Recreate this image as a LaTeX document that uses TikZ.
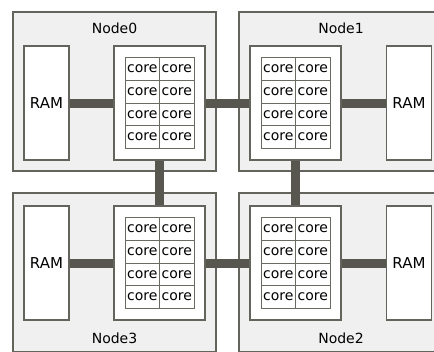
\documentclass[tikz,border=0pt]{standalone}
\usepackage{fontspec}
\setmainfont{DejaVu Sans}
\usetikzlibrary{positioning}
\definecolor{boxfill}{HTML}{F0F0F0}
\definecolor{boxline}{HTML}{64645C}
\definecolor{linkcol}{HTML}{57574F}
\definecolor{cellline}{HTML}{6A6A62}
\begin{document}
\begin{tikzpicture}[x=1pt,y=-1pt,
  nodebox/.style={draw=boxline,fill=boxfill,line width=1.4pt,minimum width=203pt,minimum height=159pt,inner sep=0pt},
  membox/.style={draw=boxline,fill=white,line width=1.2pt,minimum width=45pt,minimum height=114pt,inner sep=0pt,font=\fontsize{15}{16}\selectfont},
  cpubox/.style={draw=boxline,fill=white,line width=1.2pt,minimum width=91pt,minimum height=114pt,inner sep=0pt},
  corecell/.style={draw=cellline,line width=1pt,minimum width=34.5pt,minimum height=22.75pt,inner sep=0pt,font=\fontsize{14}{15}\selectfont},
  nodename/.style={inner sep=0pt,font=\fontsize{14}{15}\selectfont},
  link/.style={draw=linkcol,line width=9pt}]
\useasboundingbox (0,0) rectangle (434,351);
\clip (0,0) rectangle (434,351);
% the four nodes
\node[nodebox] (node0) at (114.5,91.5) {};
\node[nodebox,minimum width=204pt] (node1) at (341,91.5) {};
\node[nodebox,minimum width=204pt] (node2) at (341,272.5) {};
\node[nodebox] (node3) at (114.5,272.5) {};
\node[nodename] (name0) at (114.5,28) {Node0};
\node[nodename] (name1) at (341,28) {Node1};
\node[nodename] (name2) at (341,338) {Node2};
\node[nodename] (name3) at (114.5,338) {Node3};
% memory
\node[membox] (ram0) at (46.5,103) {RAM};
\node[membox] (ram1) at (409,103) {RAM};
\node[membox] (ram2) at (409,263) {RAM};
\node[membox] (ram3) at (46.5,263) {RAM};
% processors with 2x4 cores
\foreach \n/\x/\y in {0/159.5/103, 1/295.5/103, 2/295.5/263, 3/159.5/263} {
  \node[cpubox] (cpu\n) at (\x,\y) {};
  \foreach \r in {0,...,3}
    \foreach \c in {0,1}
      \node[corecell] (core\n\r\c) at (\x-17.25+34.5*\c,\y-34.125+22.75*\r) {core};
}
% interconnect
\draw[link] (ram0) -- (cpu0);
\draw[link] (cpu0) -- (cpu1);
\draw[link] (cpu1) -- (ram1);
\draw[link] (cpu0) -- (cpu3);
\draw[link] (cpu1) -- (cpu2);
\draw[link] (ram3) -- (cpu3);
\draw[link] (cpu3) -- (cpu2);
\draw[link] (cpu2) -- (ram2);
\end{tikzpicture}
\end{document}
